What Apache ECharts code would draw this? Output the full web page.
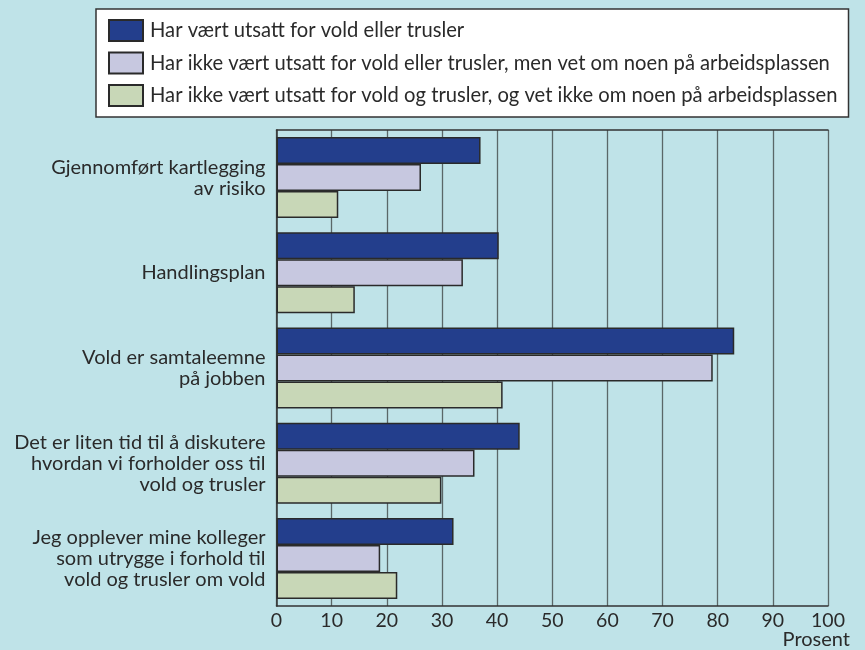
<!DOCTYPE html>
<html>
<head>
<meta charset="utf-8">
<script src="https://cdn.jsdelivr.net/npm/echarts@6/dist/echarts.min.js"></script>
<style>
html,body{margin:0;padding:0;background:#bfe3e8;}
#c{width:865px;height:650px;}
</style>
</head>
<body>
<div id="c"></div>
<script>
const categories = [
  'Gjennomført kartlegging\nav risiko',
  'Handlingsplan',
  'Vold er samtaleemne\npå jobben',
  'Det er liten tid til å diskutere\nhvordan vi forholder oss til\nvold og trusler',
  'Jeg opplever mine kolleger\nsom utrygge i forhold til\nvold og trusler om vold'
];
const seriesNames = [
  'Har vært utsatt for vold eller trusler',
  'Har ikke vært utsatt for vold eller trusler, men vet om noen på arbeidsplassen',
  'Har ikke vært utsatt for vold og trusler, og vet ikke om noen på arbeidsplassen'
];
const utsatt = [37.0, 40.3, 83.0, 44.1, 32.1];
const vetOmNoen = [26.2, 33.8, 79.1, 35.9, 18.8];
const vetIkke = [11.2, 14.2, 41.0, 29.9, 21.9];
const xTicks = [0, 10, 20, 30, 40, 50, 60, 70, 80, 90, 100];
const xAxisTitle = 'Prosent';
const colors = ['#233e8c', '#c7c8e0', '#c8d7b7'];

const chart = echarts.init(document.getElementById('c'), null, {renderer: 'canvas'});
const values = [utsatt, vetOmNoen, vetIkke];
const font = 'Lato, "Source Sans Pro", sans-serif';
chart.setOption({
  backgroundColor: '#bfe3e8',
  animation: false,
  textStyle: {fontFamily: font},
  legend: {
    orient: 'vertical',
    left: 96,
    top: 9,
    padding: [10, 11, 10, 12],
    backgroundColor: '#ffffff',
    borderColor: '#333333',
    borderWidth: 1.5,
    borderRadius: 0,
    itemWidth: 34,
    itemHeight: 21,
    itemGap: 9.5,
    icon: 'rect',
    textStyle: {fontSize: 20.2, lineHeight: 21, color: '#2a2a2a', fontFamily: font, padding: [0, 0, 0, 2]},
    data: seriesNames
  },
  graphic: [{
    type: 'text', right: 15, top: 630,
    style: {text: xAxisTitle, fontSize: 20, fill: '#2a2a2a', fontFamily: font}
  }],
  grid: {left: 276.5, right: 37, top: 130, bottom: 44, containLabel: false, outerBoundsMode: 'none'},
  xAxis: [{
    type: 'value',
    min: 0, max: 100, interval: 10,
    axisLine: {show: true, lineStyle: {color: '#333', width: 1.5}},
    axisTick: {show: false},
    axisLabel: {fontSize: 19.5, color: '#2a2a2a', margin: 5, fontFamily: font,
      formatter: v => xTicks.includes(v) ? String(v) : ''},
    splitLine: {show: true, lineStyle: {color: '#5a6768', width: 1.3}}
  }, {
    type: 'value', position: 'top',
    min: 0, max: 100, interval: 10,
    axisLine: {show: true, lineStyle: {color: '#333', width: 1.5}},
    axisTick: {show: false}, axisLabel: {show: false}, splitLine: {show: false}
  }],
  yAxis: {
    type: 'category',
    inverse: true,
    data: categories,
    axisLine: {show: true, lineStyle: {color: '#333', width: 1.5}},
    axisTick: {show: false},
    axisLabel: {fontSize: 20, color: '#2a2a2a', margin: 11, lineHeight: 21, align: 'right', fontFamily: font}
  },
  series: seriesNames.map((n, i) => ({
    name: n,
    type: 'bar',
    xAxisIndex: 0,
    data: values[i],
    barWidth: 27,
    barGap: '0%',
    itemStyle: {color: colors[i], borderColor: '#2a2a2a', borderWidth: 1.5}
  }))
});
</script>
</body>
</html>
